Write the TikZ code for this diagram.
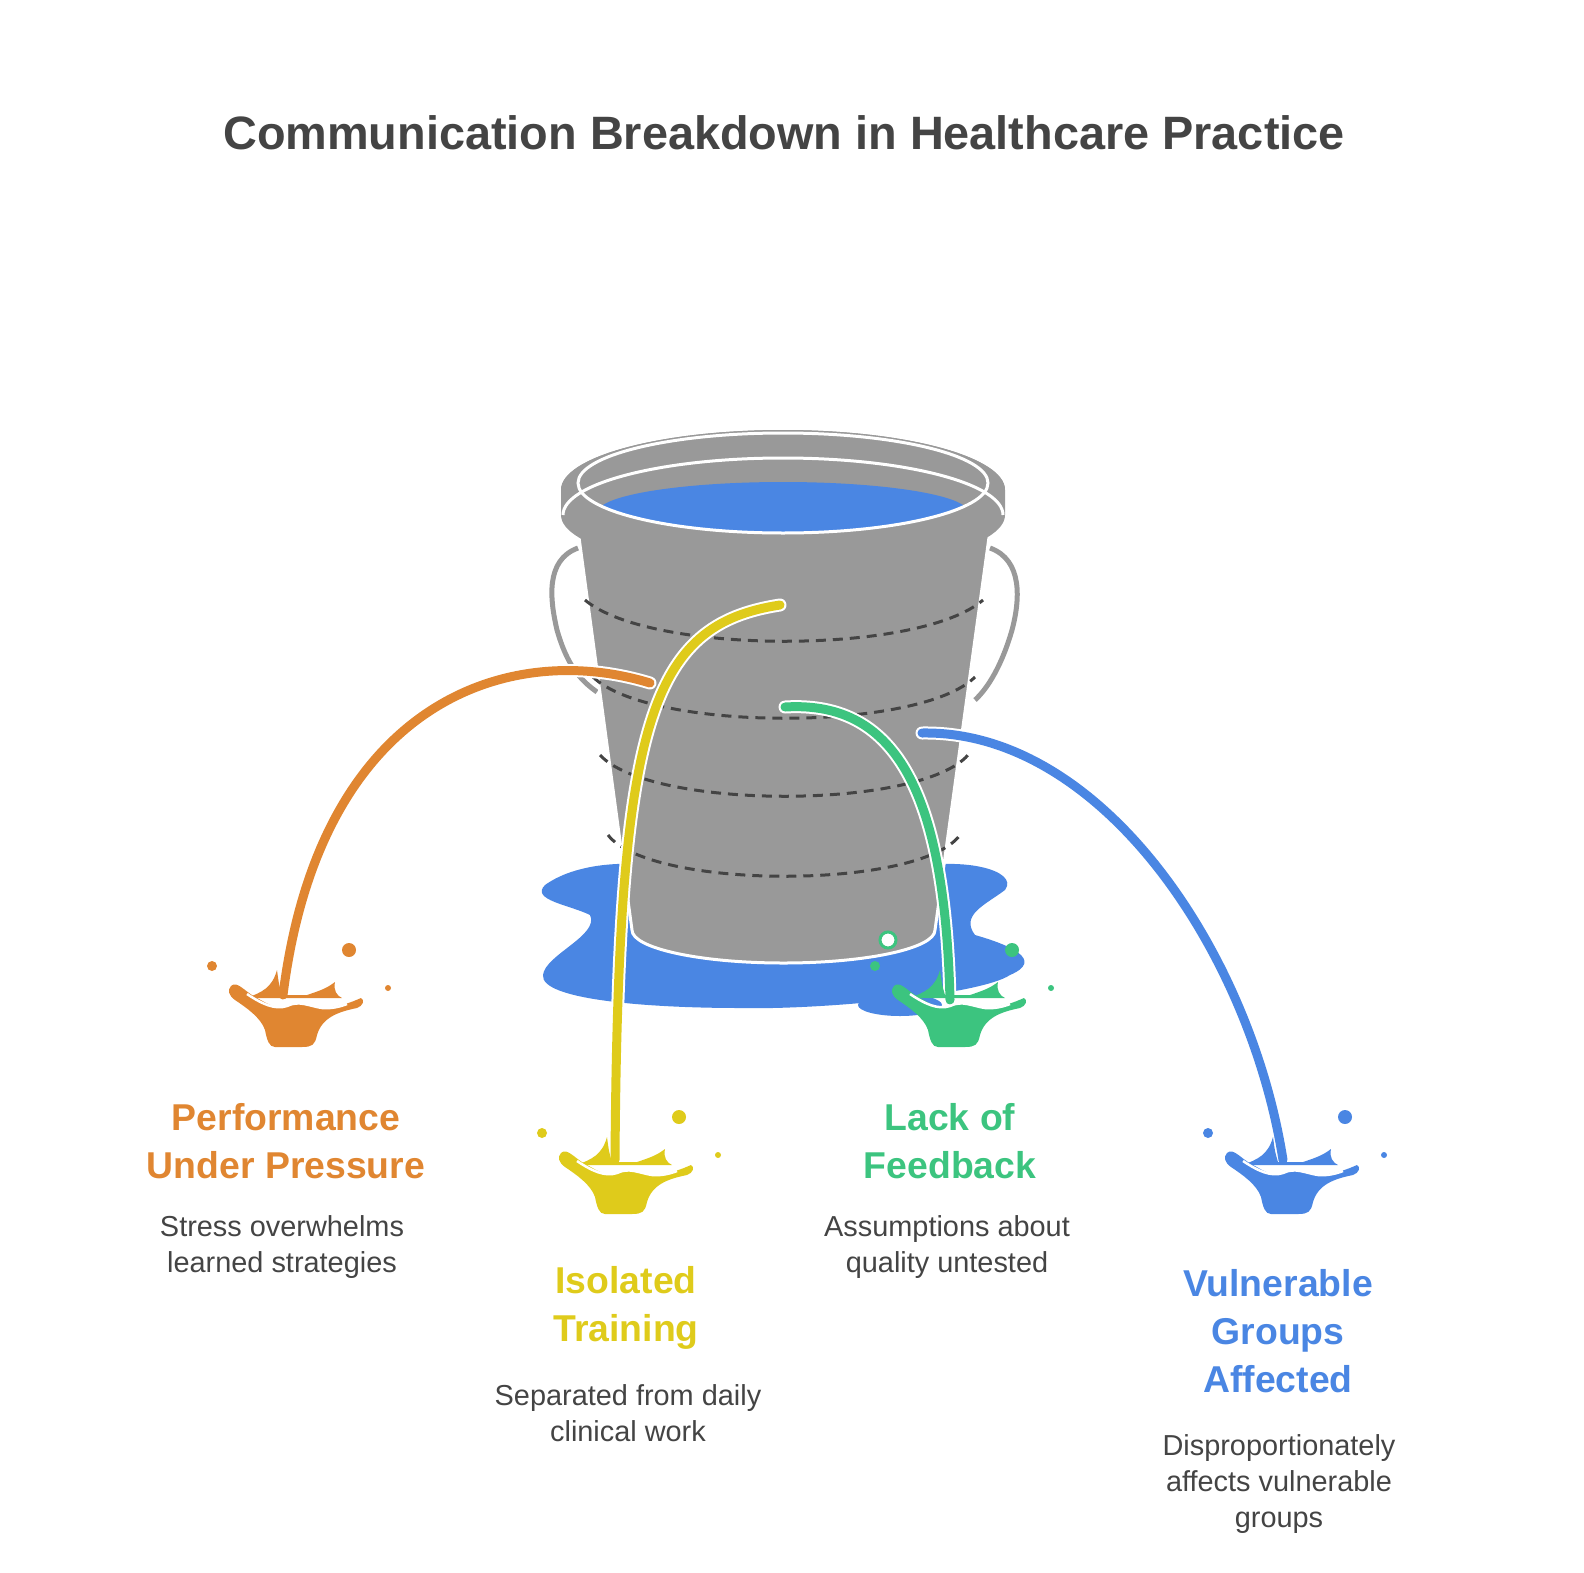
\documentclass[tikz,border=0pt]{standalone}
\usepackage{fontspec}
\setmainfont{Liberation Sans}
\begin{document}
\definecolor{cor}{HTML}{E08631}
\definecolor{cye}{HTML}{DFCB1B}
\definecolor{cgr}{HTML}{3CC47F}
\definecolor{cbl}{HTML}{4A86E3}
\definecolor{cgy}{HTML}{999999}
\definecolor{ctx}{HTML}{444444}
\begin{tikzpicture}[x=1bp,y=-1bp,
  head/.style={font=\bfseries\fontsize{37.5}{48}\selectfont,align=center},
  desc/.style={text=ctx,font=\fontsize{29}{36}\selectfont,align=center},
  stream/.style={line width=9bp,line cap=round,preaction={draw=white,line width=13bp,line cap=round}},
  pics/splash/.style={code={
    \fill[#1] (-40,-2) .. controls (-25,-8) and (-15,-12) .. (-10,-30) .. controls (-8,-15) .. (-5,-5) -- (20,-5) .. controls (35,-10) and (40,-12) .. (48,-18) .. controls (46,-10) and (50,-4) .. (55,-2) -- cycle;
    \fill[#1] (-56,-14) .. controls (-50,-20) and (-42,-8) .. (-30,-2) .. controls (-22,2) and (-12,10) .. (0,6) .. controls (12,0) and (22,8) .. (35,8) .. controls (50,8) and (65,2) .. (74,-2) .. controls (78,0) and (76,6) .. (70,8) .. controls (50,12) and (35,18) .. (30,35) .. controls (28,45) and (25,47) .. (15,47) -- (-12,47) .. controls (-18,47) and (-20,40) .. (-22,30) .. controls (-26,18) and (-40,8) .. (-52,0) .. controls (-58,-4) and (-60,-10) .. cycle;
    \draw[white,line width=2.5bp] (-40,-6) .. controls (-25,4) and (-12,10) .. (0,6) .. controls (12,0) and (22,6) .. (35,8) .. controls (45,9) and (55,6) .. (60,4);
    \fill[#1] (-75,-34) circle (5); \fill[#1] (62,-50) circle (7); \fill[#1] (101,-12) circle (3);}}]
\useasboundingbox (0,0) rectangle (1584,1573);
\node[text=ctx,font=\bfseries\fontsize{47}{50}\selectfont] (title) at (784,133) {Communication Breakdown in Healthcare Practice};
% puddle
\fill[cbl] (545,885) .. controls (580,860) and (640,860) .. (680,870) -- (900,870) .. controls (960,855) and (1020,870) .. (1005,890) .. controls (985,905) and (960,915) .. (975,935) .. controls (1010,945) and (1045,960) .. (1010,975) .. controls (980,995) and (820,1010) .. (740,1008) .. controls (650,1008) and (540,1000) .. (543,975) .. controls (545,955) and (600,935) .. (590,915) .. controls (570,905) and (530,900) .. cycle;
\fill[cbl] (900,1005) ellipse (42 and 11);
\fill[cbl] (830,990) ellipse (14 and 5);
% handles
\draw[cgy,line width=5bp] (578,548) .. controls (545,560) and (550,600) .. (557,630) .. controls (567,665) and (580,680) .. (597,692);
\draw[cgy,line width=5bp] (990,548) .. controls (1023,560) and (1020,600) .. (1012,630) .. controls (1002,665) and (988,688) .. (975,700);
% body
\fill[cgy,draw=white,line width=3bp] (578,530) -- (990,530) -- (935,930) arc[start angle=0,end angle=180,x radius=151.5,y radius=33] -- cycle;
\foreach \y/\a/\b in {650/585/983,727/593/975,805/600/968,885/608/960}
  \draw[ctx,line width=3bp,dash pattern=on 10bp off 7bp] (\a,\y-50) .. controls (650,\y+5) and (920,\y+5) .. (\b,\y-50);
% rim
\fill[cgy] (561,490) arc[start angle=180,end angle=360,x radius=222,y radius=60] -- (1005,515) arc[start angle=0,end angle=180,x radius=222,y radius=57] -- cycle;
\fill[cgy] (783,490) ellipse (222 and 60);
\draw[white,line width=3bp] (563,515) arc[start angle=180,end angle=360,x radius=220,y radius=57];
\begin{scope}
\clip (783,483) ellipse (205 and 50);
\fill[cbl] (783,512) ellipse (185 and 30);
\end{scope}
\draw[white,line width=3bp] (783,483) ellipse (205 and 50);
% streams
\draw[stream,cor] (650,683) .. controls (510,640) and (320,700) .. (283,995);
\draw[stream,cye] (780,605) .. controls (650,625) and (618,720) .. (615,1160);
\draw[stream,cgr] (785,707) .. controls (900,700) and (945,800) .. (950,1000);
\draw[stream,cbl] (922,733) .. controls (1100,730) and (1250,950) .. (1283,1160);
\draw[cgr,fill=white,line width=3bp] (888,940) circle (8);
% splashes
\pic at (287,1000) {splash=cor};
\pic at (617,1167) {splash=cye};
\pic at (950,1000) {splash=cgr};
\pic at (1283,1167) {splash=cbl};
% texts
\node[head,text=cor] (h1) at (286,1141) {Performance\\Under Pressure};
\node[desc] (d1) at (282,1247) {Stress overwhelms\\learned strategies};
\node[head,text=cye] (h2) at (626,1308) {Isolated\\Training};
\node[desc] (d2) at (628,1413) {Separated from daily\\clinical work};
\node[head,text=cgr] (h3) at (950,1141) {Lack of\\Feedback};
\node[desc] (d3) at (947,1247) {Assumptions about\\quality untested};
\node[head,text=cbl] (h4) at (1278,1331) {Vulnerable\\Groups\\Affected};
\node[desc] (d4) at (1279,1484) {Disproportionately\\affects vulnerable\\groups};
\end{tikzpicture}
\end{document}
